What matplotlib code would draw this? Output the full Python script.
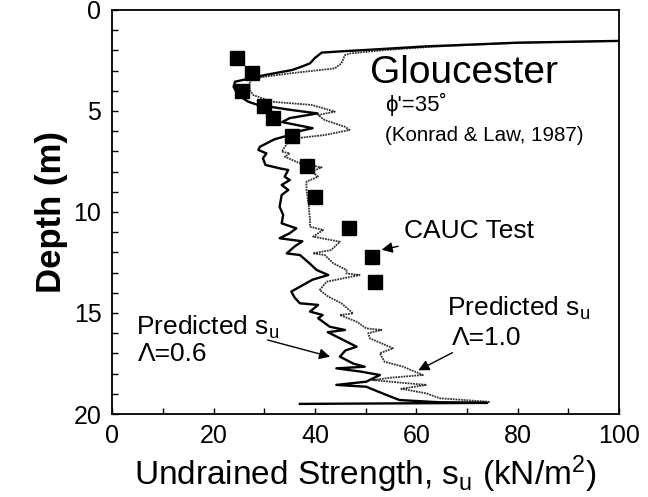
import numpy as np
import matplotlib.pyplot as plt

# CAUC test points (Konrad & Law, 1987)
cauc_su = [24.6, 27.5, 25.5, 29.9, 31.6, 35.5, 38.4, 39.9, 46.6, 51.2, 51.8]
cauc_depth = [2.39, 3.10, 4.00, 4.75, 5.36, 6.22, 7.71, 9.24, 10.78, 12.21, 13.45]

# predicted su, Lambda = 0.6
pred06_depth = [1.53, 1.62, 1.80, 1.95, 2.05, 2.11, 2.39, 2.64, 2.81, 2.97, 3.22, 3.55,
                3.80, 4.21, 4.54, 4.70, 4.95, 5.12, 5.35, 5.55, 5.85, 6.05, 6.19,
                6.40, 6.77, 6.93, 7.10, 7.34, 7.67, 7.84, 7.92, 8.25, 8.42, 8.66,
                8.91, 9.16, 9.74, 10.15, 10.56, 10.81, 11.05, 11.30, 11.45, 11.70,
                12.05, 12.13, 12.54, 12.87, 13.12, 13.35, 13.94, 14.25, 14.52, 14.60,
                14.93, 15.10, 15.26, 15.68, 15.84, 15.95, 16.25, 16.67, 16.85, 17.16,
                17.50, 17.66, 17.74, 17.90, 18.07, 18.40, 18.56, 18.65, 19.06, 19.31,
                19.42, 19.45, 19.50]
pred06_su = [100, 80, 62, 52, 45, 41.3, 39.9, 39.0, 37.3, 35.5, 30.1, 24.2,
             23.9, 24.8, 26.8, 28.7, 35.3, 40.5, 35.0, 33.5, 39.5, 36.0, 35.0,
             32.0, 29.1, 28.8, 30.4, 29.7, 30.2, 33.0, 34.7, 34.0, 35.0, 33.4,
             34.7, 33.4, 33.0, 33.7, 33.4, 36.3, 35.0, 33.0, 37.5, 36.0,
             34.4, 37.0, 38.9, 40.3, 42.6, 39.5, 35.3, 36.0, 37.0, 40.6,
             39.0, 41.5, 40.6, 42.9, 45.9, 42.5, 44.9, 48.2, 46.0, 44.9,
             47.5, 49.8, 44.2, 49.0, 52.8, 50.1, 44.2, 50.1, 54.1, 56.7,
             64.6, 74.0, 37.0]

# predicted su, Lambda = 1.0
pred10_depth = [1.53, 1.62, 1.82, 1.98, 2.15, 2.23, 2.64, 2.89, 3.13, 3.38, 3.55, 3.96,
                4.21, 4.54, 4.70, 5.03, 5.20, 5.45, 5.78, 5.94, 6.19, 6.34, 6.60,
                7.01, 7.10, 7.26, 7.59, 7.79, 8.00, 8.25, 8.50, 8.91, 9.57, 10.40,
                10.73, 10.89, 11.22, 11.47, 11.88, 12.05, 12.13, 12.54, 12.87, 13.04,
                13.12, 13.45, 13.86, 14.19, 14.52, 15.02, 15.10, 15.43, 15.76, 15.84,
                16.00, 16.25, 16.50, 16.75, 16.99, 17.41, 17.66, 18.07, 18.20, 18.32,
                18.45, 18.56, 18.75, 18.98, 19.22, 19.40]
pred10_su = [100, 80, 63, 54, 47, 45.9, 45.2, 43.9, 35.3, 27.8, 27.1, 27.1,
             27.8, 31.4, 39.3, 43.9, 40.6, 41.9, 45.9, 46.8, 41.9, 36.6, 34.5,
             33.4, 35.0, 34.0, 37.0, 41.3, 39.3, 40.6, 38.3, 38.3, 38.7, 39.0,
             39.0, 41.6, 39.6, 44.9, 43.2, 39.6, 41.9, 43.6, 46.2, 46.2,
             48.8, 42.3, 40.9, 42.6, 45.2, 47.5, 44.9, 48.2, 50.1, 53.1,
             50.5, 50.8, 53.1, 55.4, 52.8, 53.7, 57.4, 61.3, 55.0, 51.4,
             57.0, 62.0, 57.0, 62.0, 64.6, 74.5]

plt.rcParams['font.family'] = ['Liberation Sans', 'DejaVu Sans']
plt.rcParams['mathtext.fontset'] = 'custom'
plt.rcParams['mathtext.rm'] = 'Liberation Sans'
plt.rcParams['mathtext.it'] = 'Liberation Sans'

fig = plt.figure(figsize=(6.48, 4.97), dpi=100)
ax = fig.add_axes([0.1736, 0.167, 0.7816, 0.8129])

ax.plot(pred10_su, pred10_depth, color='0.2', lw=1.3, linestyle=(0, (1, 0.5)))
ax.plot(pred06_su, pred06_depth, color='black', lw=1.7)
ax.plot(cauc_su, cauc_depth, 's', color='black', markersize=9.5)

ax.set_xlim(0, 100)
ax.set_ylim(20, 0)
ax.set_xticks(np.arange(0, 101, 20))
ax.set_xticks(np.arange(0, 101, 10), minor=True)
ax.set_yticks(np.arange(0, 21, 5))
ax.set_yticks(np.arange(0, 21, 1), minor=True)
ax.tick_params(which='both', direction='in', length=4, width=1, labelsize=18)
ax.tick_params(axis='x', pad=7)
ax.tick_params(axis='y', pad=8)
for s in ax.spines.values():
    s.set_linewidth(1.3)

ax.set_xlabel('Undrained Strength, s$_\\mathregular{u}$ (kN/m$^\\mathregular{2}$)',
              fontsize=24, labelpad=4)
ax.set_ylabel('Depth (m)', fontsize=25, fontweight='bold', labelpad=4)

ax.text(50.8, 3.6, 'Gloucester', fontsize=28)
ax.text(53.9, 5.0, "\u03d5'=35\u02da", fontsize=16)
ax.text(53.9, 6.5, '(Konrad & Law, 1987)', fontsize=14.8)

arrow = dict(arrowstyle='-|>', color='black', lw=1.0, mutation_scale=16)
ax.annotate('CAUC Test', xy=(52.6, 11.9), xytext=(57.5, 11.3), fontsize=19,
            arrowprops=arrow)
ax.text(4.7, 16.1, 'Predicted s$_\\mathregular{u}$', fontsize=19)
ax.text(5.0, 17.4, '\u039b=0.6', fontsize=19)
ax.annotate('', xy=(43.5, 17.2), xytext=(30.1, 16.3), arrowprops=arrow)
ax.text(66.0, 15.15, 'Predicted s$_\\mathregular{u}$', fontsize=19)
ax.text(67.0, 16.6, '\u039b=1.0', fontsize=19)
ax.annotate('', xy=(59.9, 17.9), xytext=(67.6, 16.9), arrowprops=arrow)

fig.savefig('out.png', dpi=100)
